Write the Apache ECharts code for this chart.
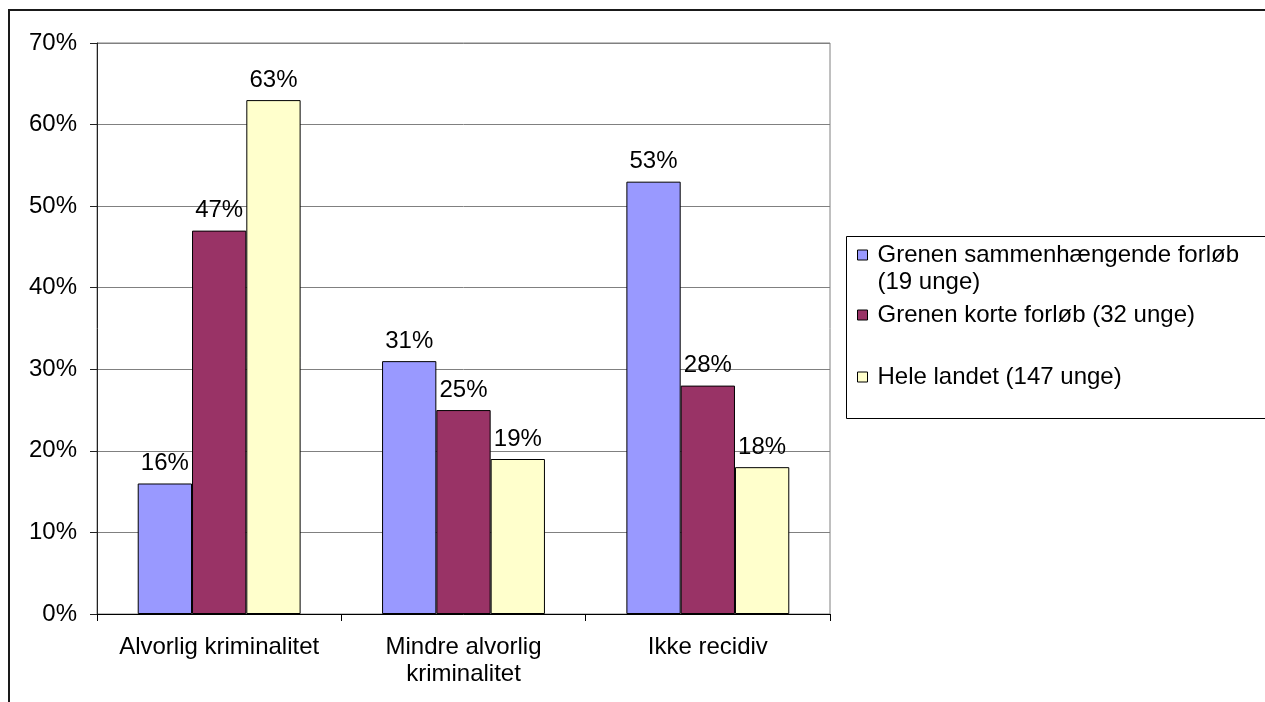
<!DOCTYPE html>
<html>
<head>
<meta charset="utf-8">
<script src="https://cdn.jsdelivr.net/npm/echarts@6/dist/echarts.min.js"></script>
<style>
html,body{margin:0;padding:0;background:#fff;}
#chart{width:1265px;height:702px;}
</style>
</head>
<body>
<div id="chart"></div>
<script>
const categories = ['Alvorlig kriminalitet', 'Mindre alvorlig\nkriminalitet', 'Ikke recidiv'];
const seriesNames = ['Grenen sammenhængende forløb\n(19 unge)', 'Grenen korte forløb (32 unge)', 'Hele landet (147 unge)'];
const sammenhaengende = [16, 31, 53];
const korte = [47, 25, 28];
const heleLandet = [63, 19, 18];
const colors = ['#9999FF', '#993366', '#FFFFCC'];
const yMax = 70;
const yInterval = 10;

const FONT = '"Liberation Sans", Arial, sans-serif';
const FS = 24;

const chart = echarts.init(document.getElementById('chart'));

const values = [sammenhaengende, korte, heleLandet];
const series = values.map((v, i) => ({
  name: seriesNames[i],
  type: 'bar',
  data: v,
  barGap: '0%',
  barCategoryGap: '33.33%',
  itemStyle: { color: colors[i], borderColor: '#000', borderWidth: 1 },
  label: {
    show: true,
    position: 'top',
    distance: 7,
    formatter: '{c}%',
    color: '#000',
    fontFamily: FONT,
    fontSize: FS,
    lineHeight: 26
  },
  emphasis: { disabled: true },
  animation: false
}));

const legendTops = [214.5, 301.5, 363.5];
const legends = seriesNames.map((n, i) => ({
  left: 857,
  top: legendTops[i],
  orient: 'vertical',
  padding: 0,
  itemWidth: 10,
  itemHeight: 10,
  icon: 'rect',
  selectedMode: false,
  itemStyle: { borderColor: '#000', borderWidth: 1 },
  formatter: i === 0 ? (name => ' \n' + name) : '{name}',
  textStyle: {
    color: '#000',
    fontFamily: FONT,
    fontSize: FS,
    lineHeight: 27,
    padding: [0, 0, 0, 5]
  },
  data: [n]
}));

chart.setOption({
  animation: false,
  backgroundColor: '#fff',
  grid: {
    left: 97, right: 435, top: 43, bottom: 88,
    show: true, borderColor: '#808080', borderWidth: 1, backgroundColor: 'transparent'
  },
  legend: legends,
  xAxis: {
    type: 'category',
    data: categories,
    axisLine: { show: true, lineStyle: { color: '#000', width: 1 } },
    axisTick: { show: true, length: 7, inside: false, lineStyle: { color: '#000' } },
    axisLabel: {
      interval: 0,
      margin: 20,
      color: '#000',
      fontFamily: FONT,
      fontSize: FS,
      lineHeight: 27,
      align: 'center'
    }
  },
  yAxis: {
    type: 'value',
    min: 0,
    max: yMax,
    interval: yInterval,
    axisLine: { show: true, lineStyle: { color: '#222', width: 1 } },
    axisTick: { show: true, length: 7, lineStyle: { color: '#222' } },
    axisLabel: {
      formatter: '{value}%',
      margin: 20,
      color: '#000',
      fontFamily: FONT,
      fontSize: FS
    },
    splitLine: { show: true, lineStyle: { color: '#808080', width: 1 } }
  },
  series: series,
  graphic: [
    {
      type: 'rect',
      silent: true,
      shape: { x: 9, y: 10, width: 1400, height: 900 },
      style: { fill: 'none', stroke: '#1a1a1a', lineWidth: 2 }
    },
    {
      type: 'rect',
      silent: true,
      shape: { x: 846.5, y: 236.5, width: 600, height: 182 },
      style: { fill: 'none', stroke: '#000', lineWidth: 1 }
    }
  ]
});
</script>
</body>
</html>
